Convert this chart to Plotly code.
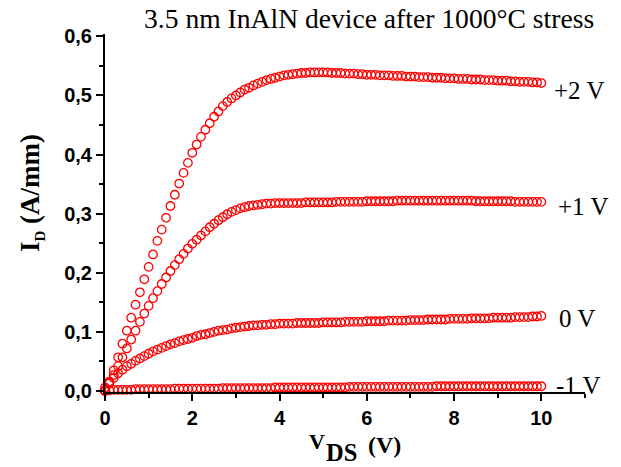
import plotly.graph_objects as go

# Drain-source voltage sweep (V)
vds = [round(i * 0.1, 1) for i in range(101)]

# Drain current (A/mm) for each gate voltage
id_p2 = [0.000, 0.016, 0.035, 0.057, 0.080, 0.102, 0.124, 0.146, 0.167, 0.189,
         0.210, 0.231, 0.254, 0.273, 0.293, 0.313, 0.332, 0.351, 0.369, 0.386,
         0.403, 0.417, 0.430, 0.442, 0.453, 0.464, 0.473, 0.482, 0.489, 0.495,
         0.500, 0.505, 0.510, 0.513, 0.517, 0.520, 0.523, 0.526, 0.528, 0.530,
         0.532, 0.534, 0.535, 0.536, 0.537, 0.538, 0.538, 0.539, 0.539, 0.539,
         0.539, 0.539, 0.538, 0.538, 0.538, 0.537, 0.537, 0.537, 0.536, 0.536,
         0.535, 0.535, 0.535, 0.534, 0.534, 0.534, 0.533, 0.533, 0.533, 0.532,
         0.532, 0.532, 0.531, 0.531, 0.531, 0.530, 0.530, 0.530, 0.529, 0.529,
         0.529, 0.528, 0.528, 0.528, 0.527, 0.527, 0.527, 0.526, 0.526, 0.526,
         0.525, 0.525, 0.525, 0.524, 0.524, 0.523, 0.523, 0.523, 0.522, 0.522,
         0.521]

id_p1 = [0.000, 0.013, 0.027, 0.042, 0.057, 0.072, 0.087, 0.102, 0.117, 0.131,
         0.144, 0.157, 0.169, 0.181, 0.192, 0.203, 0.213, 0.223, 0.232, 0.241,
         0.249, 0.256, 0.263, 0.270, 0.277, 0.283, 0.289, 0.294, 0.299, 0.303,
         0.306, 0.309, 0.311, 0.313, 0.314, 0.315, 0.316, 0.317, 0.317, 0.318,
         0.318, 0.318, 0.318, 0.318, 0.318, 0.318, 0.319, 0.319, 0.319, 0.319,
         0.319, 0.319, 0.319, 0.320, 0.320, 0.320, 0.320, 0.320, 0.320, 0.320,
         0.321, 0.321, 0.321, 0.321, 0.321, 0.321, 0.321, 0.322, 0.322, 0.322,
         0.322, 0.322, 0.322, 0.322, 0.322, 0.322, 0.322, 0.322, 0.322, 0.322,
         0.322, 0.322, 0.322, 0.322, 0.322, 0.321, 0.321, 0.321, 0.321, 0.321,
         0.321, 0.321, 0.321, 0.321, 0.320, 0.320, 0.320, 0.320, 0.320, 0.320,
         0.320]

id_0 = [0.006, 0.014, 0.022, 0.030, 0.036, 0.042, 0.046, 0.051, 0.055, 0.059,
        0.063, 0.067, 0.070, 0.073, 0.076, 0.079, 0.081, 0.084, 0.086, 0.088,
        0.090, 0.093, 0.095, 0.096, 0.098, 0.100, 0.102, 0.103, 0.104, 0.106,
        0.107, 0.108, 0.109, 0.110, 0.111, 0.111, 0.112, 0.112, 0.113, 0.113,
        0.114, 0.114, 0.114, 0.114, 0.115, 0.115, 0.115, 0.115, 0.115, 0.115,
        0.116, 0.116, 0.116, 0.116, 0.116, 0.117, 0.117, 0.117, 0.117, 0.117,
        0.118, 0.118, 0.118, 0.118, 0.118, 0.119, 0.119, 0.119, 0.119, 0.119,
        0.120, 0.120, 0.120, 0.120, 0.121, 0.121, 0.121, 0.121, 0.121, 0.122,
        0.122, 0.122, 0.122, 0.122, 0.123, 0.123, 0.123, 0.123, 0.123, 0.124,
        0.124, 0.124, 0.124, 0.124, 0.125, 0.125, 0.125, 0.125, 0.126, 0.126,
        0.127]

id_m1 = [0.001, 0.001, 0.002, 0.002, 0.002, 0.002, 0.002, 0.003, 0.003, 0.003,
         0.003, 0.003, 0.003, 0.003, 0.003, 0.003, 0.004, 0.004, 0.004, 0.004,
         0.004, 0.004, 0.004, 0.004, 0.004, 0.004, 0.004, 0.005, 0.005, 0.005,
         0.005, 0.005, 0.005, 0.005, 0.005, 0.005, 0.005, 0.005, 0.005, 0.006,
         0.006, 0.006, 0.006, 0.006, 0.006, 0.006, 0.006, 0.006, 0.006, 0.006,
         0.006, 0.006, 0.006, 0.006, 0.006, 0.006, 0.007, 0.007, 0.007, 0.007,
         0.007, 0.007, 0.007, 0.007, 0.007, 0.007, 0.007, 0.007, 0.007, 0.007,
         0.007, 0.007, 0.007, 0.007, 0.007, 0.007, 0.008, 0.008, 0.008, 0.008,
         0.008, 0.008, 0.008, 0.008, 0.008, 0.008, 0.008, 0.008, 0.008, 0.008,
         0.008, 0.008, 0.008, 0.008, 0.008, 0.008, 0.008, 0.008, 0.008, 0.008,
         0.008]

series = [id_p2, id_p1, id_0, id_m1]
gate_labels = ["+2 V", "+1 V", "0 V", "-1 V"]

W, H = 621, 467
L, T, PW, PH = 105, 34, 480, 358


def px(xp):
    return (xp - L) / PW


def py(yp):
    return 1 - (yp - T) / PH


fig = go.Figure()
for ys, name in zip(series, gate_labels):
    fig.add_trace(go.Scatter(
        x=vds, y=ys, mode="markers", name=name, cliponaxis=False,
        marker=dict(symbol="circle-open", size=8.5, color="#FF0000",
                    line=dict(width=1.3, color="#FF0000")),
        showlegend=False))

serif = "Liberation Serif, Times New Roman, serif"
sans = "Liberation Sans, Arial, sans-serif"

annotations = []
# curve labels
label_pos = [(553, 90), (557, 206), (558, 318), (555, 385)]
for txt, (lx, ly) in zip(gate_labels, label_pos):
    annotations.append(dict(text=txt, xref="paper", yref="paper",
                            x=px(lx), y=py(ly), xanchor="left", yanchor="middle",
                            showarrow=False, borderpad=0,
                            font=dict(family=serif, size=25, color="black")))
# title
annotations.append(dict(text="3.5 nm InAlN device after 1000°C stress",
                        xref="paper", yref="paper", x=px(368.5), y=py(18),
                        xanchor="center", yanchor="middle", showarrow=False,
                        borderpad=0,
                        font=dict(family=serif, size=27.6, color="black")))
# y-axis title
annotations.append(dict(text="<b>I<sub><span style='font-size:15px'>D</span></sub> (A/mm)</b>",
                        xref="paper", yref="paper", x=px(32), y=py(193),
                        xanchor="center", yanchor="middle", textangle=-90,
                        showarrow=False, borderpad=0,
                        font=dict(family=serif, size=27, color="black")))
# x-axis title pieces
annotations.append(dict(text="<b>V</b>", xref="paper", yref="paper",
                        x=px(308), y=py(441), xanchor="left", yanchor="middle",
                        showarrow=False, borderpad=0,
                        font=dict(family=serif, size=22, color="black")))
annotations.append(dict(text="<b>DS</b>", xref="paper", yref="paper",
                        x=px(325), y=py(466.5), xanchor="left", yanchor="bottom",
                        showarrow=False, borderpad=0,
                        font=dict(family=serif, size=24.5, color="black")))
annotations.append(dict(text="<b>(V)</b>", xref="paper", yref="paper",
                        x=px(367), y=py(445), xanchor="left", yanchor="middle",
                        showarrow=False, borderpad=0,
                        font=dict(family=serif, size=24, color="black")))

axis_common = dict(showline=True, linecolor="black", linewidth=2,
                   ticks="outside", tickcolor="black", tickwidth=2, ticklen=7,
                   showgrid=False, zeroline=False, mirror=False,
                   tickfont=dict(family=sans, size=20, color="black", weight="bold"))

fig.update_layout(
    width=W, height=H,
    margin=dict(l=L, r=W - L - PW, t=T, b=H - T - PH),
    paper_bgcolor="white", plot_bgcolor="white",
    separators=", ",
    xaxis=dict(range=[0, 11], tickmode="array", tickvals=[0, 2, 4, 6, 8, 10],
               ticktext=["0", "2", "4", "6", "8", "10"],
               minor=dict(tickmode="array", tickvals=[1, 3, 5, 7, 9, 11],
                          ticks="outside", ticklen=4, tickwidth=2,
                          tickcolor="black", showgrid=False),
               **axis_common),
    yaxis=dict(range=[-0.0017, 0.604], tickmode="array",
               tickvals=[0, 0.1, 0.2, 0.3, 0.4, 0.5, 0.6],
               ticktext=["0,0", "0,1", "0,2", "0,3", "0,4", "0,5", "0,6"],
               minor=dict(tickmode="array",
                          tickvals=[0.05, 0.15, 0.25, 0.35, 0.45, 0.55],
                          ticks="outside", ticklen=4, tickwidth=2,
                          tickcolor="black", showgrid=False),
               **axis_common),
    annotations=annotations,
)

fig.write_html("out.html")
